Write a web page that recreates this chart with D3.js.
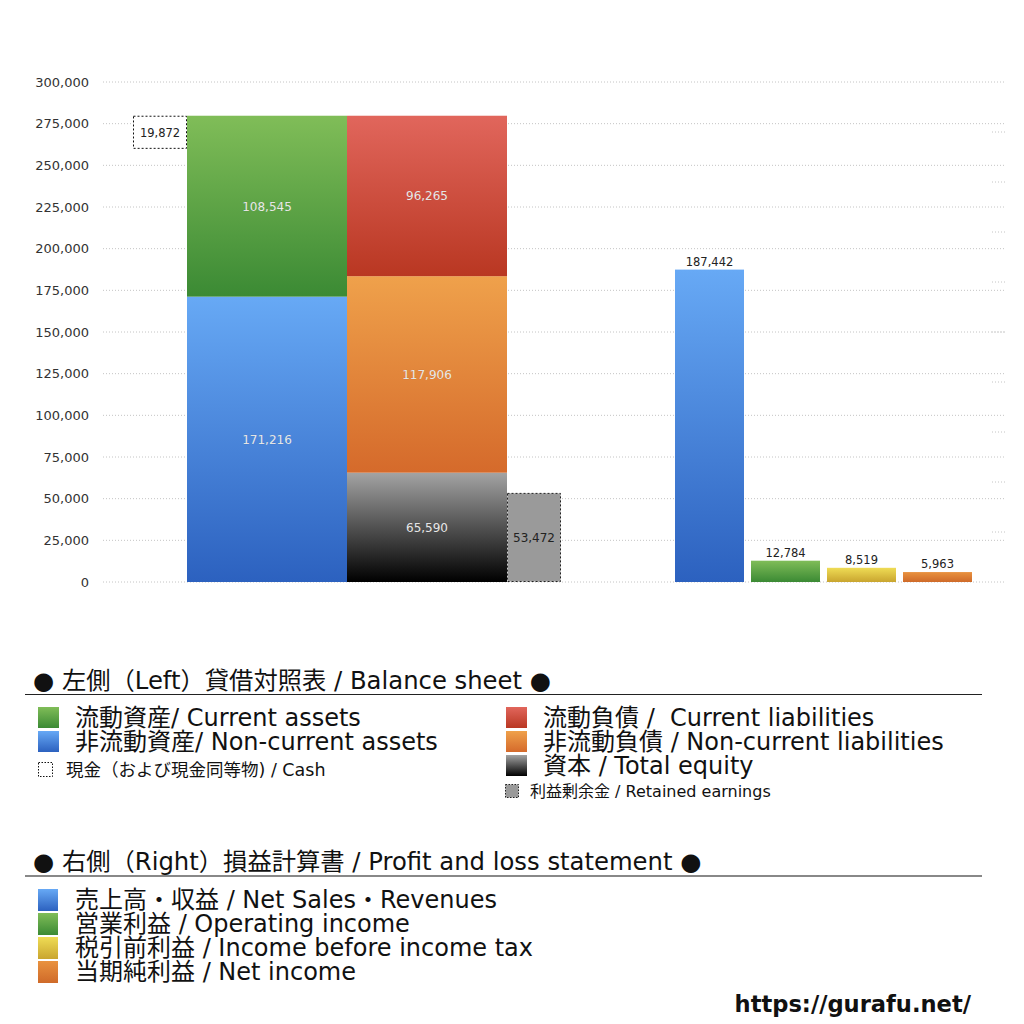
<!DOCTYPE html>
<html>
<head>
<meta charset="utf-8">
<script src="https://cdn.jsdelivr.net/npm/d3@7"></script>
<style>
  body { margin: 0; background: #fff; }
  text { font-family: "DejaVu Sans", "Noto Sans CJK JP", sans-serif; }
</style>
</head>
<body>
<div id="chart"></div>
<script>
// balance sheet (left)
const assetNames = ["非流動資産", "流動資産"];
const assetValues = [171216, 108545];
const liabilityNames = ["資本", "非流動負債", "流動負債"];
const liabilityValues = [65590, 117906, 96265];
const cashValue = 19872;
const retainedValue = 53472;

// profit and loss (right)
const plNames = ["売上高・収益", "営業利益", "税引前利益", "当期純利益"];
const plValues = [187442, 12784, 8519, 5963];

const yTicks = [0, 25000, 50000, 75000, 100000, 125000, 150000, 175000, 200000, 225000, 250000, 275000, 300000];

const width = 1024, height = 1024;
const fmt = d3.format(",");

const svg = d3.select("#chart").append("svg")
  .attr("width", width)
  .attr("height", height)
  .attr("viewBox", [0, 0, width, height]);

const y = d3.scaleLinear().domain([0, 300000]).range([582, 82]);
const xBS = d3.scaleBand().domain(["assets", "liabilities"]).range([187, 507]);
const xPL = d3.scaleBand().domain(plNames).range([675, 972]).paddingInner(7 / 76);
const sideW = 54;

// gradients
const grads = {
  green: ["#80bd58", "#3b8a34"],
  blue: ["#67a9f5", "#2c61bf"],
  red: ["#e1665c", "#b93722"],
  orange: ["#efa14b", "#d56a2b"],
  black: ["#a3a3a3", "#000000"],
  yellow: ["#efdc55", "#c9a52f"],
  orange2: ["#e9923f", "#cf6a29"]
};
const defs = svg.append("defs");
Object.entries(grads).forEach(([k, c]) => {
  const g = defs.append("linearGradient").attr("id", "g-" + k)
    .attr("x1", 0).attr("y1", 0).attr("x2", 0).attr("y2", 1);
  g.append("stop").attr("offset", "0%").attr("stop-color", c[0]);
  g.append("stop").attr("offset", "100%").attr("stop-color", c[1]);
});

// gridlines
svg.append("g")
  .selectAll("line")
  .data(yTicks)
  .join("line")
  .attr("x1", 103).attr("x2", 1006)
  .attr("y1", d => y(d)).attr("y2", d => y(d))
  .attr("stroke", "#c4c4c4")
  .attr("stroke-width", 1)
  .attr("stroke-dasharray", "1,2");

// right-hand minor ticks (secondary axis, unlabeled)
const y2 = d3.scaleLinear().domain([0, 10]).range([582, 82]);
svg.append("g")
  .selectAll("line")
  .data(d3.range(1, 10))
  .join("line")
  .attr("x1", 992).attr("x2", 1006)
  .attr("y1", d => y2(d)).attr("y2", d => y2(d))
  .attr("stroke", "#c4c4c4")
  .attr("stroke-dasharray", "1,2");

// y axis labels
svg.append("g")
  .selectAll("text")
  .data(yTicks)
  .join("text")
  .attr("x", 89)
  .attr("y", d => y(d) + 4.5)
  .attr("text-anchor", "end")
  .attr("font-size", 13)
  .attr("fill", "#333")
  .text(d => fmt(d));

// stacked balance sheet bars
function stack(names, values, colors, key) {
  let acc = 0;
  const segs = values.map((v, i) => {
    const s = { name: names[i], value: v, y0: acc, y1: acc + v, color: colors[i] };
    acc += v;
    return s;
  });
  const g = svg.append("g");
  g.selectAll("rect")
    .data(segs)
    .join("rect")
    .attr("x", xBS(key))
    .attr("width", xBS.bandwidth())
    .attr("y", d => y(d.y1))
    .attr("height", d => y(d.y0) - y(d.y1))
    .attr("fill", d => "url(#g-" + d.color + ")");
  g.selectAll("text")
    .data(segs)
    .join("text")
    .attr("x", xBS(key) + xBS.bandwidth() / 2)
    .attr("y", d => (y(d.y0) + y(d.y1)) / 2 + 4.5)
    .attr("text-anchor", "middle")
    .attr("font-size", 12)
    .attr("fill", "#f2f2f2")
    .attr("stroke", "rgba(0,0,0,0.15)")
    .attr("stroke-width", 0.4)
    .text(d => fmt(d.value));
  return acc;
}
const totalAssets = stack(assetNames, assetValues, ["blue", "green"], "assets");
stack(liabilityNames, liabilityValues, ["black", "orange", "red"], "liabilities");

// cash box (dashed, left of assets)
svg.append("rect")
  .attr("x", xBS("assets") - sideW + 0.5)
  .attr("y", y(totalAssets) + 0.5)
  .attr("width", sideW - 1)
  .attr("height", y(0) - y(cashValue) - 1)
  .attr("fill", "#fff")
  .attr("stroke", "#111")
  .attr("stroke-dasharray", "2,2");
svg.append("text")
  .attr("x", xBS("assets") - sideW / 2)
  .attr("y", y(totalAssets) + (y(0) - y(cashValue)) / 2 + 4.5)
  .attr("text-anchor", "middle")
  .attr("font-size", 11.5)
  .attr("fill", "#222")
  .text(fmt(cashValue));

// retained earnings box
const reX = xBS("liabilities") + xBS.bandwidth();
svg.append("rect")
  .attr("x", reX + 0.5)
  .attr("y", y(retainedValue) + 0.5)
  .attr("width", sideW - 1)
  .attr("height", y(0) - y(retainedValue) - 1)
  .attr("fill", "#9a9a9a")
  .attr("stroke", "#222")
  .attr("stroke-dasharray", "2,2");
svg.append("text")
  .attr("x", reX + sideW / 2)
  .attr("y", (y(0) + y(retainedValue)) / 2 + 4.5)
  .attr("text-anchor", "middle")
  .attr("font-size", 12)
  .attr("fill", "#222")
  .text(fmt(retainedValue));

// P&L bars
const plColors = ["blue", "green", "yellow", "orange2"];
svg.append("g")
  .selectAll("rect")
  .data(plValues)
  .join("rect")
  .attr("x", (d, i) => xPL(plNames[i]))
  .attr("width", xPL.bandwidth())
  .attr("y", d => y(d))
  .attr("height", d => y(0) - y(d))
  .attr("fill", (d, i) => "url(#g-" + plColors[i] + ")");
svg.append("g")
  .selectAll("text")
  .data(plValues)
  .join("text")
  .attr("x", (d, i) => xPL(plNames[i]) + xPL.bandwidth() / 2)
  .attr("y", d => y(d) - 4)
  .attr("text-anchor", "middle")
  .attr("font-size", 11.5)
  .attr("fill", "#222")
  .text(d => fmt(d));

// ---- legends ----
const leg = svg.append("g");

// section 1
leg.append("text").attr("x", 33).attr("y", 689)
  .attr("font-size", 24.3).attr("fill", "#111")
  .text("● 左側（Left）貸借対照表 / Balance sheet ●");
leg.append("line").attr("x1", 25).attr("x2", 982).attr("y1", 694.5).attr("y2", 694.5)
  .attr("stroke", "#222").attr("stroke-width", 1.2);

const bsLegend = [
  { c: "green", t: "流動資産/ Current assets", x: 38, y: 707 },
  { c: "blue", t: "非流動資産/ Non-current assets", x: 38, y: 731 },
  { c: "red", t: "流動負債 /  Current liabilities", x: 506, y: 707 },
  { c: "orange", t: "非流動負債 / Non-current liabilities", x: 506, y: 731 },
  { c: "black", t: "資本 / Total equity", x: 506, y: 755 }
];
bsLegend.forEach(d => {
  leg.append("rect").attr("x", d.x).attr("y", d.y).attr("width", 21).attr("height", 21)
    .attr("fill", "url(#g-" + d.c + ")");
  leg.append("text").attr("x", d.x + 37).attr("y", d.y + 19)
    .attr("font-size", 24).attr("fill", "#111")
    .style("white-space", "pre")
    .text(d.t);
});

leg.append("rect").attr("x", 38.5).attr("y", 762.5).attr("width", 14).attr("height", 14)
  .attr("fill", "#fff").attr("stroke", "#111").attr("stroke-dasharray", "1.5,1.5");
leg.append("text").attr("x", 66).attr("y", 776).attr("font-size", 17.5).attr("fill", "#111")
  .text("現金（および現金同等物) / Cash");

leg.append("rect").attr("x", 505.5).attr("y", 784.5).attr("width", 13).attr("height", 13)
  .attr("fill", "#9a9a9a").attr("stroke", "#222").attr("stroke-dasharray", "1.5,1.5");
leg.append("text").attr("x", 530).attr("y", 797).attr("font-size", 16).attr("fill", "#111")
  .text("利益剰余金 / Retained earnings");

// section 2
leg.append("text").attr("x", 33).attr("y", 870)
  .attr("font-size", 24.3).attr("fill", "#111")
  .text("● 右側（Right）損益計算書 / Profit and loss statement ●");
leg.append("line").attr("x1", 25).attr("x2", 982).attr("y1", 876).attr("y2", 876)
  .attr("stroke", "#888").attr("stroke-width", 2);

const plLabels = [
  "売上高・収益 / Net Sales・Revenues",
  "営業利益 / Operating income",
  "税引前利益 / Income before income tax",
  "当期純利益 / Net income"
];
plLabels.forEach((t, i) => {
  leg.append("rect").attr("x", 38).attr("y", 889 + i * 24).attr("width", 20).attr("height", 22)
    .attr("fill", "url(#g-" + plColors[i] + ")");
  leg.append("text").attr("x", 75).attr("y", 908 + i * 24)
    .attr("font-size", 24).attr("fill", "#111")
    .text(t);
});

// footer
svg.append("text")
  .attr("x", 971).attr("y", 1012)
  .attr("text-anchor", "end")
  .attr("font-size", 22.6)
  .attr("font-weight", "bold")
  .attr("fill", "#111")
  .text("https://gurafu.net/");
</script>
</body>
</html>
